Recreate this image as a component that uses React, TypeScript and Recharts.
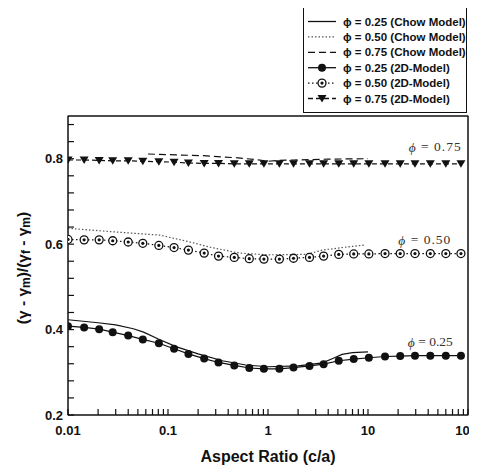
import React from "react";
import { LineChart, Line, XAxis, YAxis, ReferenceArea, ReferenceDot, Legend, Label } from "recharts";

// 2D-model sample points (aspect ratio c/a)
const modelX = [0.01, 0.0145, 0.0205, 0.028, 0.04, 0.056, 0.081, 0.115, 0.16, 0.23, 0.32, 0.46, 0.65, 0.91, 1.3, 1.8, 2.6, 3.6, 5.1, 7.2, 10.2, 14.8, 21, 29.5, 42, 60, 85];
const model25 = [0.408, 0.405, 0.401, 0.394, 0.386, 0.377, 0.368, 0.355, 0.343, 0.332, 0.323, 0.316, 0.31, 0.308, 0.308, 0.311, 0.315, 0.319, 0.327, 0.331, 0.334, 0.337, 0.338, 0.339, 0.339, 0.339, 0.339];
const model50 = [0.611, 0.61, 0.61, 0.608, 0.605, 0.602, 0.597, 0.592, 0.586, 0.579, 0.572, 0.569, 0.566, 0.565, 0.565, 0.567, 0.569, 0.572, 0.576, 0.577, 0.577, 0.578, 0.578, 0.578, 0.578, 0.578, 0.578];
const model75 = [0.797, 0.797, 0.796, 0.795, 0.795, 0.794, 0.793, 0.792, 0.79, 0.789, 0.789, 0.788, 0.788, 0.788, 0.788, 0.788, 0.788, 0.788, 0.788, 0.788, 0.788, 0.788, 0.788, 0.788, 0.788, 0.788, 0.788];

// Chow model curves
const chow25X = [0.01, 0.02, 0.03, 0.045, 0.057, 0.08, 0.12, 0.2, 0.35, 0.6, 1, 2, 3.5, 4.5, 5.5, 7, 10];
const chow25Y = [0.423, 0.416, 0.411, 0.402, 0.394, 0.378, 0.36, 0.343, 0.327, 0.317, 0.313, 0.315, 0.322, 0.333, 0.342, 0.346, 0.348];
const chow50X = [0.01, 0.028, 0.083, 0.16, 0.26, 0.52, 1, 2.4, 3.5, 6, 9.3];
const chow50Y = [0.637, 0.629, 0.621, 0.606, 0.593, 0.579, 0.575, 0.576, 0.586, 0.593, 0.598];
const chow75X = [0.063, 0.12, 0.225, 0.5, 0.83, 1, 1.3, 1.8, 4, 10];
const chow75Y = [0.811, 0.809, 0.807, 0.802, 0.797, 0.794, 0.796, 0.797, 0.799, 0.8];

const xMajorTicks = [0.01, 0.1, 1, 10, 100];
const xMinorSteps = [2, 3, 4, 5, 6, 7, 8, 9];
const yTicks = [0.2, 0.24, 0.28, 0.32, 0.36, 0.4, 0.44, 0.48, 0.52, 0.56, 0.6, 0.64, 0.68, 0.72, 0.76, 0.8, 0.84, 0.88];
const yLabelTicks = [0.2, 0.4, 0.6, 0.8];

const xTicks = xMajorTicks.flatMap((d) => (d < 100 ? [d, ...xMinorSteps.map((m) => m * d)] : [d]));

const W = 469;
const H = 459;
const PLOT_W = 400;
const INK = "#111";
const SANS = "'Liberation Sans', Arial, sans-serif";

const pairs = (xs: number[], ys: number[]) => xs.map((x, i) => ({ x, y: ys[i] }));

const fullDot = (p: any) => <circle key={p.index} cx={p.cx} cy={p.cy} r={4} fill={INK} />;
const ringDot = (p: any) => (
  <g key={p.index}>
    <circle cx={p.cx} cy={p.cy} r={4} fill="#fff" stroke={INK} strokeWidth={1.3} />
    <circle cx={p.cx} cy={p.cy} r={1.6} fill={INK} />
  </g>
);
const triDot = (p: any) => (
  <path key={p.index} d={`M${p.cx - 4.5},${p.cy - 3.5}L${p.cx + 4.5},${p.cy - 3.5}L${p.cx},${p.cy + 4}Z`} fill={INK} />
);

const series = [
  { name: "ϕ = 0.25 (Chow Model)", data: pairs(chow25X, chow25Y), dash: undefined, marker: null, color: INK },
  { name: "ϕ = 0.50 (Chow Model)", data: pairs(chow50X, chow50Y), dash: "1.5 2", marker: null, color: "#555" },
  { name: "ϕ = 0.75 (Chow Model)", data: pairs(chow75X, chow75Y), dash: "7 4", marker: null, color: INK },
  { name: "ϕ = 0.25 (2D-Model)", data: pairs(modelX, model25), dash: undefined, marker: fullDot, color: INK },
  { name: "ϕ = 0.50 (2D-Model)", data: pairs(modelX, model50), dash: "1.5 2.5", marker: ringDot, color: INK },
  { name: "ϕ = 0.75 (2D-Model)", data: pairs(modelX, model75), dash: "5 3", marker: triDot, color: INK },
];

// tick labels only; the tick marks come from the axes' own tick lines (negative size = inward)
const XTickLabel = ({ x, payload }: any) => {
  const v = payload.value;
  if (!xMajorTicks.includes(v)) return <g />;
  const last = v === 100;
  return (
    <text x={last ? x + 9 : x} y={422} textAnchor={last ? "end" : "middle"} dominantBaseline="central" fontSize={13} fontWeight="bold" fill={INK} fontFamily={SANS}>
      {v}
    </text>
  );
};

const YTickLabel = ({ y, payload }: any) => {
  if (!yLabelTicks.includes(payload.value)) return <g />;
  return (
    <text x={55} y={y} textAnchor="end" dominantBaseline="central" fontSize={13} fontWeight="bold" fill={INK} fontFamily={SANS}>
      {payload.value.toFixed(1)}
    </text>
  );
};

const xTitle = () => (
  <text x={260} y={448} textAnchor="middle" dominantBaseline="central" fontSize={16} fontWeight="bold" fill={INK} fontFamily={SANS}>
    Aspect Ratio (c/a)
  </text>
);

// y title, plus the box round the plot (placed from the y axis' own viewBox)
const yTitle = (props: any) => {
  const vb = props && props.viewBox;
  const left = vb ? vb.x + vb.width : 60;
  const top = vb ? vb.y : 108;
  const h = vb ? vb.height : 299;
  return (
    <g>
      <rect x={left} y={top} width={PLOT_W} height={h} fill="none" stroke={INK} strokeWidth={1} />
      <text x={14} y={260} transform="rotate(-90 14 260)" textAnchor="middle" dominantBaseline="central" fontSize={15.5} fontWeight="bold" fill={INK} fontFamily={SANS}>
        (γ - γ<tspan dy={4} fontSize={12}>m</tspan>
        <tspan dy={-4}>)/(γ</tspan>
        <tspan dy={4} fontSize={12}>f</tspan>
        <tspan dy={-4}> - γ</tspan>
        <tspan dy={4} fontSize={12}>m</tspan>
        <tspan dy={-4}>)</tspan>
      </text>
    </g>
  );
};

const phiNote = (text: string, spacing: number) => (props: any) => {
  const { x, y } = props.viewBox;
  return (
    <text x={x} y={y} textAnchor="middle" dominantBaseline="central" fontFamily="'Liberation Serif', serif" fontSize={13.5} fill="#333" letterSpacing={spacing}>
      <tspan fontStyle="italic">ϕ</tspan>
      {` = ${text}`}
    </text>
  );
};

const LegendBox = () => (
  <svg width={164} height={110} style={{ display: "block" }}>
    <rect x={0.5} y={0.5} width={163} height={109} fill="#fff" stroke={INK} />
    {series.map((s, i) => {
      const cy = 18.5 + 15.4 * i;
      return (
        <g key={s.name}>
          <line x1={5} x2={33} y1={cy} y2={cy} stroke={s.color} strokeWidth={1.3} strokeDasharray={s.dash} />
          {s.marker && s.marker({ cx: 19, cy, index: i })}
          <text x={40} y={cy} dominantBaseline="central" fontSize={11.5} fontWeight="bold" fill={INK} fontFamily={SANS}>
            {s.name}
          </text>
        </g>
      );
    })}
  </svg>
);

const tickLine = { stroke: INK, strokeWidth: 1.2 };

export default function App() {
  return (
    <div style={{ width: W, height: H, fontFamily: SANS, background: "#fff" }}>
      <LineChart width={W} height={H} margin={{ top: 108, right: 9, bottom: 12, left: 10 }}>
        {/* bottom: inward ticks, labels for the decades */}
        <XAxis xAxisId="b" dataKey="x" type="number" scale="log" domain={[0.01, 100]} allowDataOverflow ticks={xTicks} interval={0}
          height={40} axisLine={false} tickLine={tickLine} tickSize={-6} tick={<XTickLabel />} label={xTitle} />
        {/* top mirror ticks */}
        <XAxis xAxisId="t" orientation="top" type="number" scale="log" domain={[0.01, 100]} allowDataOverflow ticks={xTicks} interval={0}
          height={0} axisLine={false} tickLine={tickLine} tickSize={-5} tick={false} />
        <XAxis xAxisId="tm" orientation="top" type="number" scale="log" domain={[0.01, 100]} allowDataOverflow ticks={xMajorTicks} interval={0}
          height={0} axisLine={false} tickLine={tickLine} tickSize={-8} tick={false} />
        <YAxis yAxisId="l" dataKey="y" type="number" domain={[0.2, 0.9]} allowDataOverflow ticks={yTicks} interval={0}
          width={50} axisLine={false} tickLine={tickLine} tickSize={-6} tick={<YTickLabel />} label={yTitle} />
        <YAxis yAxisId="r" orientation="right" type="number" domain={[0.2, 0.9]} allowDataOverflow ticks={yTicks} interval={0}
          width={0} axisLine={false} tickLine={tickLine} tickSize={-6} tick={false} />
        {/* plot frame (left and bottom edges) */}
        <ReferenceArea xAxisId="b" yAxisId="l" x1={0.01} x2={100} y1={0.2} y2={0.9} ifOverflow="visible" fill="transparent" fillOpacity={0} stroke={INK} strokeWidth={1} />
        {series.map((s) => (
          <Line
            key={s.name}
            xAxisId="b"
            yAxisId="l"
            name={s.name}
            data={s.data}
            dataKey="y"
            type="linear"
            stroke={s.color}
            strokeWidth={1.2}
            strokeDasharray={s.dash}
            dot={s.marker ?? false}
            activeDot={false}
            isAnimationActive={false}
          />
        ))}
        <ReferenceDot xAxisId="b" yAxisId="l" x={47} y={0.828} r={0} fill="none" stroke="none">
          <Label content={phiNote("0.75", 1)} />
        </ReferenceDot>
        <ReferenceDot xAxisId="b" yAxisId="l" x={37} y={0.61} r={0} fill="none" stroke="none">
          <Label content={phiNote("0.50", 1)} />
        </ReferenceDot>
        <ReferenceDot xAxisId="b" yAxisId="l" x={42} y={0.371} r={0} fill="none" stroke="none">
          <Label content={phiNote("0.25", 0)} />
        </ReferenceDot>
        <Legend
          layout="vertical"
          align="center"
          verticalAlign="middle"
          content={<LegendBox />}
          wrapperStyle={{ left: 295, top: -5, width: 164, height: 110 }}
        />
      </LineChart>
    </div>
  );
}
